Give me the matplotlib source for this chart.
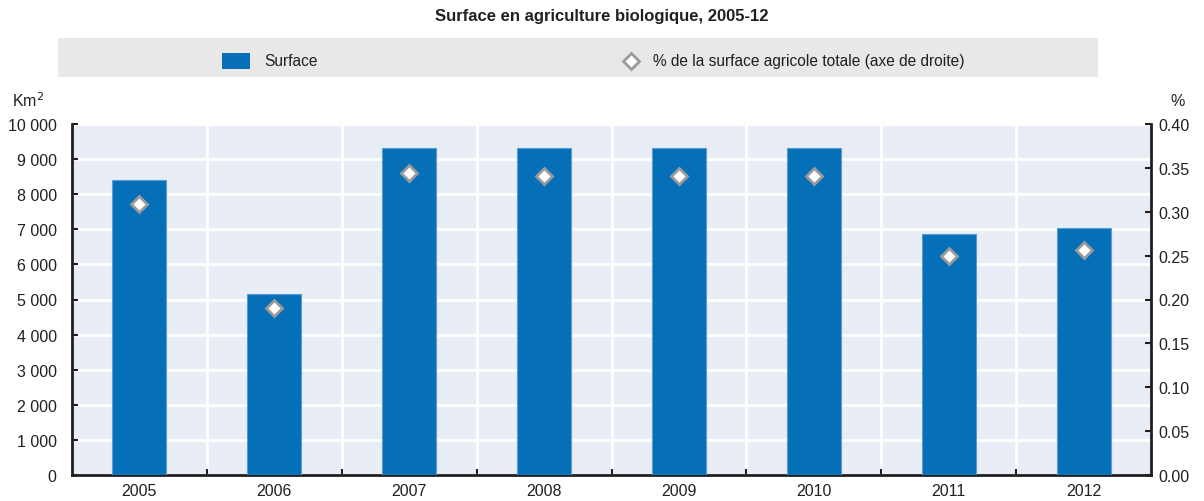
import matplotlib
matplotlib.use("Agg")
import matplotlib.pyplot as plt
from matplotlib.ticker import FuncFormatter, FixedLocator, MultipleLocator
from matplotlib.patches import Rectangle
from matplotlib.lines import Line2D

plt.rcParams['font.family'] = ['Liberation Sans', 'DejaVu Sans']

years = ["2005", "2006", "2007", "2008", "2009", "2010", "2011", "2012"]
surface_km2 = [8410, 5160, 9310, 9310, 9310, 9310, 6860, 7040]
share_pct = [0.309, 0.190, 0.344, 0.341, 0.341, 0.341, 0.250, 0.256]

title = "Surface en agriculture biologique, 2005-12"
legend_bar = "Surface"
legend_marker = "% de la surface agricole totale (axe de droite)"

BAR = "#0570b8"
BAR_EDGE = "#5a9bd0"
PLOT_BG = "#e9edf5"
LEGEND_BG = "#e8e8e8"
SPINE = "#231f20"
TEXT = "#231f20"
FS = 11.5

W, H = 1204, 502
fig = plt.figure(figsize=(W / 100, H / 100), dpi=100)

def fx(px):
    return px / W

def fy(py):
    return 1 - py / H

# Main plot area
left, right, top, bottom = 72, 1151, 125, 476
ax = fig.add_axes([fx(left), fy(bottom), fx(right - left), (bottom - top) / H])
ax.set_facecolor(PLOT_BG)
x = list(range(len(years)))
ax.bar(x, surface_km2, width=0.4, color=BAR, edgecolor=BAR_EDGE, linewidth=0.8, zorder=3)
ax.set_xlim(-0.5, len(years) - 0.5)
ax.set_ylim(0, 10000)
ax.yaxis.set_major_locator(MultipleLocator(1000))
ax.yaxis.set_major_formatter(FuncFormatter(lambda v, p: f"{int(v):,}".replace(",", " ")))
ax.set_xticks(x)
ax.set_xticklabels(years)
ax.xaxis.set_minor_locator(FixedLocator([i + 0.5 for i in range(len(years) - 1)]))
ax.grid(True, axis='y', which='major', color='white', linewidth=2, zorder=1)
ax.grid(True, axis='x', which='minor', color='white', linewidth=2, zorder=1)
ax.set_axisbelow(True)
ax.tick_params(axis='x', which='major', length=0, labelsize=FS, labelcolor=TEXT, pad=6)
ax.tick_params(axis='x', which='minor', direction='in', length=4, width=1.5, color=SPINE)
ax.tick_params(axis='y', direction='in', length=4, width=1.5, color=SPINE,
               labelsize=FS, labelcolor=TEXT, pad=11)
for s in ['left', 'bottom']:
    ax.spines[s].set_color(SPINE)
    ax.spines[s].set_linewidth(2)
ax.spines['top'].set_visible(False)
ax.spines['right'].set_visible(False)

# Right axis for share of total agricultural area
ax2 = ax.twinx()
ax2.plot(x, share_pct, linestyle='none', marker='D', markersize=8.5,
         markerfacecolor='white', markeredgecolor='#9a9a9a', markeredgewidth=2, zorder=4)
ax2.set_ylim(0, 0.40)
ax2.yaxis.set_major_locator(MultipleLocator(0.05))
ax2.yaxis.set_major_formatter(FuncFormatter(lambda v, p: f"{v:.2f}"))
ax2.tick_params(axis='y', direction='in', length=4, width=1.5, color=SPINE,
                labelsize=FS, labelcolor=TEXT, pad=5)
for s in ['left', 'top', 'bottom']:
    ax2.spines[s].set_visible(False)
ax2.spines['right'].set_color(SPINE)
ax2.spines['right'].set_linewidth(2)

# Axis unit labels
fig.text(fx(12), fy(101), "Km$^2$", fontsize=FS, color=TEXT, va='center', ha='left')
fig.text(fx(1170), fy(101), "%", fontsize=FS, color=TEXT, va='center', ha='left')

# Title
fig.text(fx(602), fy(17), title, fontsize=12, fontweight='bold', color=TEXT,
         ha='center', va='center')

# Legend band
lg = fig.add_axes([fx(58), fy(78), fx(1098 - 58), (78 - 39) / H])
lg.set_xlim(58, 1098)
lg.set_ylim(78, 39)
lg.set_facecolor(LEGEND_BG)
lg.set_xticks([])
lg.set_yticks([])
for s in lg.spines.values():
    s.set_visible(False)
lg.add_patch(Rectangle((222, 54), 28, 16, facecolor=BAR, edgecolor='none'))
lg.text(264, 61.5, legend_bar, fontsize=11.2, color=TEXT, va='center', ha='left')
lg.add_line(Line2D([631], [62], linestyle='none', marker='D', markersize=8.5,
                   markerfacecolor='white', markeredgecolor='#9a9a9a', markeredgewidth=2))
lg.text(653, 61.5, legend_marker, fontsize=11.2, color=TEXT, va='center', ha='left')

fig.savefig("out.png", dpi=100)
